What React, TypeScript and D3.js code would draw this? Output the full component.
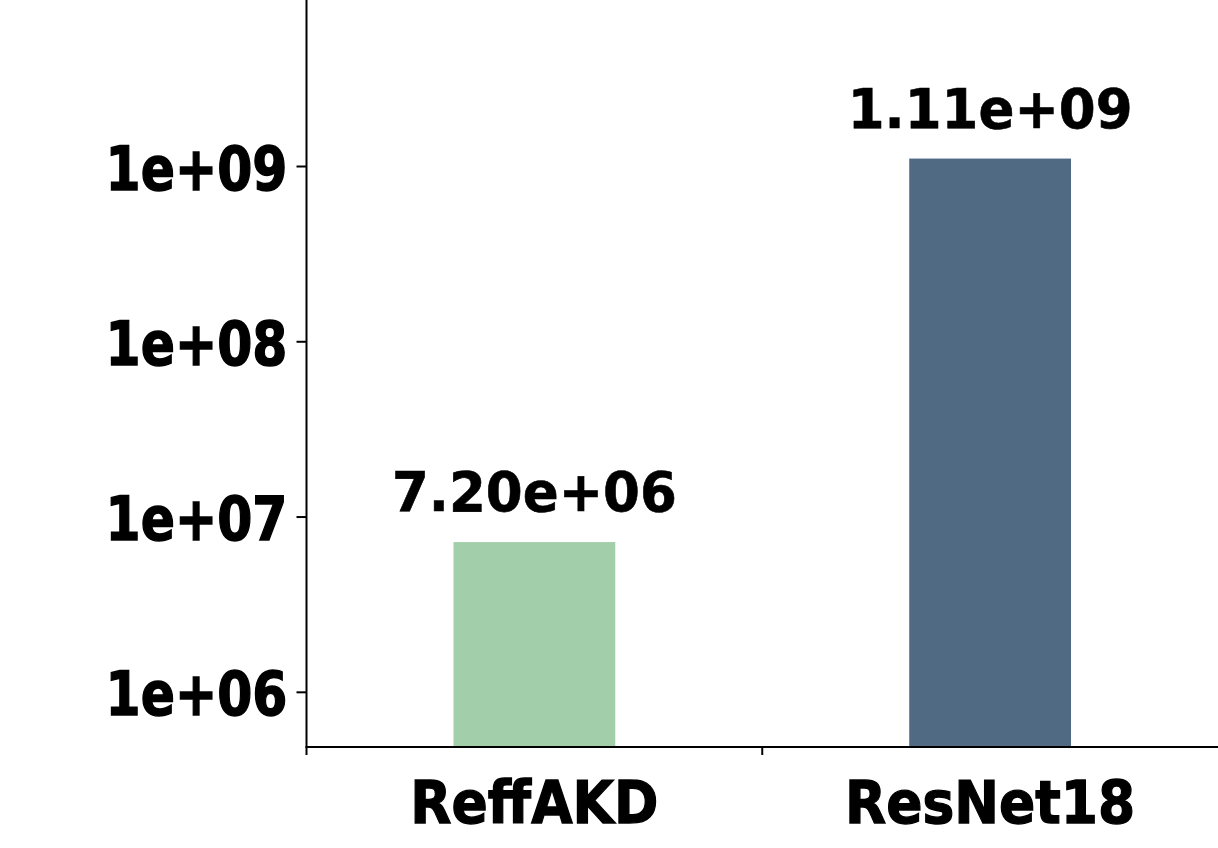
import React from "react";
import * as d3 from "d3";

const categories = ["ReffAKD", "ResNet18"];
const values = [7.2e6, 1.11e9];
const valueLabels = ["7.20e+06", "1.11e+09"];
const colors = ["#a3ceaa", "#4f6a82"];
const yTicks = [1e6, 1e7, 1e8, 1e9];
const yTickLabels = ["1e+06", "1e+07", "1e+08", "1e+09"];

const W = 1218;
const H = 848;
const left = 306.5;
const bottom = 747;
const yMin = Math.pow(10, 5.688);
const yMax = Math.pow(10, 9.95);

export default function App() {
  const y = d3.scaleLog().domain([yMin, yMax]).range([bottom, 0]);
  const x = d3.scaleBand().domain(categories).range([left, W]).paddingInner(0).paddingOuter(0);
  const barW = x.bandwidth() * 0.355;
  const font = "'DejaVu Sans', sans-serif";
  return (
    <svg width={W} height={H} style={{ position: "absolute", left: 0, top: 0 }} fontFamily={font} fontWeight="bold">
      <rect width={W} height={H} fill="#fff" />
      {categories.map((c, i) => {
        const cx = (x(c) as number) + x.bandwidth() / 2;
        const top = y(values[i]);
        return (
          <g key={c}>
            <rect x={cx - barW / 2} y={top} width={barW} height={bottom - top} fill={colors[i]} />
            <text transform={`translate(${cx},${top - 31}) scale(1,1.03)`} textAnchor="middle" fontSize={53} fill="#000" stroke="#000" strokeWidth={0.6}>
              {valueLabels[i]}
            </text>
            <line x1={x(c) as number} x2={x(c) as number} y1={bottom} y2={bottom + 8} stroke="#000" strokeWidth={2} />
            <text transform={`translate(${cx},${823}) scale(1,1.11)`} textAnchor="middle" fontSize={53.5} fill="#000" stroke="#000" strokeWidth={1.2}>
              {c}
            </text>
          </g>
        );
      })}
      {yTicks.map((t, i) => (
        <g key={t}>
          <line x1={left - 10} x2={left} y1={y(t)} y2={y(t)} stroke="#000" strokeWidth={2} />
          <text transform={`translate(${left - 19},${y(t) + 23}) scale(1,1.2)`} textAnchor="end" fontSize={50.5} fill="#000" stroke="#000" strokeWidth={1.2}>
            {yTickLabels[i]}
          </text>
        </g>
      ))}
      <line x1={left} x2={left} y1={0} y2={bottom} stroke="#000" strokeWidth={2} />
      <line x1={left - 1} x2={W} y1={bottom} y2={bottom} stroke="#000" strokeWidth={2} />
    </svg>
  );
}
